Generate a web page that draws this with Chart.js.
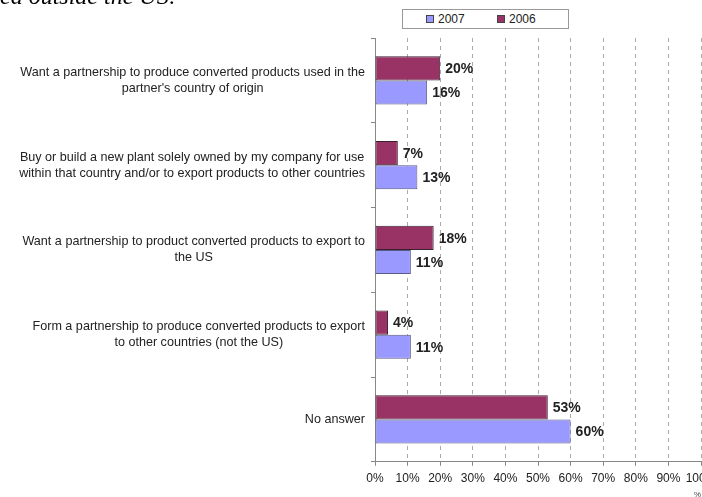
<!DOCTYPE html>
<html>
<head>
<meta charset="utf-8">
<script src="https://cdn.jsdelivr.net/npm/chart.js@4/dist/chart.umd.min.js"></script>
<style>
    body{ margin:0; width:702px; height:497px; overflow:hidden; background:#fff; position:relative; }
    #grafico{ position:absolute; left:0; top:0; }
    #topo{ position:absolute; left:0; top:-16px; font:italic 24px "Liberation Serif","Times New Roman",serif; line-height:24px; white-space:nowrap; color:#000; }
    #legenda{ position:absolute; left:402px; top:9px; width:165px; height:18px; border:1px solid #999; background:#fff; display:flex; align-items:center; font:12px "Liberation Sans",Arial,sans-serif; color:#222; }
    #legenda .item{ width:83px; display:flex; align-items:center; }
    #legenda .item:first-child{ margin-left:23px; }
    #legenda .cor{ width:6px; height:6px; border:1px solid #444; margin-right:4px; }
</style>
</head>
<body>
<canvas id="grafico" width="730" height="497"></canvas>
<div id="topo">ed outside the US:</div>
<div id="legenda"></div>

<script>
// Dados

const categorias = [
    ['Want a partnership to produce converted products used in the', "partner's country of origin"],
    ['Buy or build a new plant solely owned by my company for use', 'within that country and/or to export products to other countries'],
    ['Want a partnership to product converted products to export to', 'the US'],
    ['Form a partnership to produce converted products to export', 'to other countries (not the US)'],
    ['No answer']
]

const valores2006 = [20, 7, 18, 4, 53]
const valores2007 = [16, 13, 11, 11, 60]

const ticksX = [0, 10, 20, 30, 40, 50, 60, 70, 80, 90, 100]

const fonte = '"Liberation Sans", Arial, sans-serif'

// Rótulos das categorias (linhas centradas, bloco encostado no eixo)

const rotulosCategorias = {
    id: 'rotulosCategorias',
    afterDraw(chart){
        const escala = chart.scales.y
        const ctx = chart.ctx
        const alturaLinha = 16
        const direita = escala.right - 10

        ctx.save()
        ctx.font = '12.6px ' + fonte
        ctx.fillStyle = '#222'
        ctx.textAlign = 'center'
        ctx.textBaseline = 'middle'

        for(let i = 0; i < categorias.length; i++){
            const linhas = categorias[i]
            let largura = 0
            for(let linha of linhas){
                largura = Math.max(largura, ctx.measureText(linha).width)
            }
            const x = direita - largura / 2
            const y = escala.getPixelForTick(i) - (linhas.length - 1) * alturaLinha / 2

            for(let k = 0; k < linhas.length; k++){
                ctx.fillText(linhas[k], x, y + k * alturaLinha)
            }
        }
        ctx.restore()
    }
}

// Valores ao lado das barras

const rotulosValores = {
    id: 'rotulosValores',
    afterDatasetsDraw(chart){
        const ctx = chart.ctx
        ctx.save()
        ctx.font = 'bold 14px ' + fonte
        ctx.fillStyle = '#222'
        ctx.textBaseline = 'middle'

        chart.data.datasets.forEach((ds, i) => {
            chart.getDatasetMeta(i).data.forEach((barra, j) => {
                ctx.fillText(ds.data[j] + '%', barra.x + 5, barra.y + 1)
            })
        })
        ctx.restore()
    }
}

const dados = {
    labels: categorias,
    datasets: [
        {
            label: '2006',
            data: valores2006,
            backgroundColor: '#993366',
            borderColor: '#3a2030',
            borderWidth: 1,
            borderSkipped: false,
            categoryPercentage: 0.57,
            barPercentage: 1
        },
        {
            label: '2007',
            data: valores2007,
            backgroundColor: '#9999ff',
            borderColor: '#5a5a80',
            borderWidth: 1,
            borderSkipped: false,
            categoryPercentage: 0.57,
            barPercentage: 1
        }
    ]
}

const grafico = new Chart(document.getElementById('grafico'), {
    type: 'bar',
    data: dados,
    plugins: [rotulosCategorias, rotulosValores],
    options: {
        indexAxis: 'y',
        responsive: false,
        animation: false,
        layout: {
            padding: { top: 38, right: 29, bottom: 0, left: 0 }
        },
        plugins: {
            legend: { display: false },
            tooltip: { enabled: false }
        },
        scales: {
            x: {
                min: ticksX[0],
                max: ticksX[ticksX.length - 1],
                afterBuildTicks(s){
                    s.ticks = ticksX.map(v => ({ value: v }))
                },
                ticks: {
                    callback: v => v + '%',
                    color: '#222',
                    font: { family: fonte, size: 12 },
                    padding: 6,
                    maxRotation: 0,
                    autoSkip: false
                },
                grid: {
                    color: '#aaa',
                    tickColor: '#888',
                    tickLength: 4,
                    tickBorderDash: []
                },
                border: { color: '#888', dash: [4, 4] },
                title: {
                    display: true,
                    text: '%',
                    align: 'end',
                    color: '#444',
                    font: { family: fonte, size: 8, lineHeight: 0.6 },
                    padding: 0
                }
            },
            y: {
                afterFit(s){
                    s.width = 375
                },
                ticks: { display: false },
                grid: {
                    drawOnChartArea: false,
                    offset: true,
                    color: '#888',
                    tickLength: 4
                },
                border: { color: '#888' }
            }
        }
    }
})

// Legenda (2007 primeiro)

const legenda = document.getElementById('legenda')
const ordemLegenda = [1, 0]

for(let i of ordemLegenda){
    const ds = dados.datasets[i]
    const item = document.createElement('div')
    item.className = 'item'

    const cor = document.createElement('span')
    cor.className = 'cor'
    cor.style.background = ds.backgroundColor

    const texto = document.createElement('span')
    texto.textContent = ds.label

    item.appendChild(cor)
    item.appendChild(texto)
    legenda.appendChild(item)
}
</script>
</body>
</html>
